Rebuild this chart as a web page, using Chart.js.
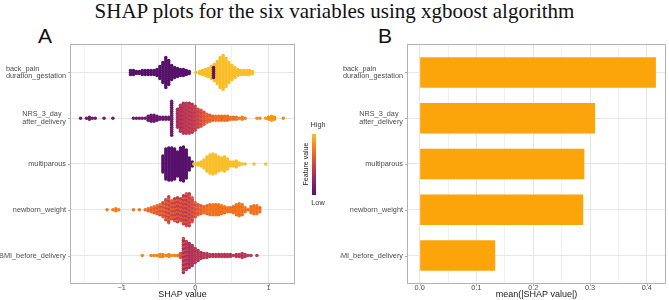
<!DOCTYPE html>
<html>
<head>
<meta charset="utf-8">
<script src="https://cdn.jsdelivr.net/npm/chart.js@4.4.1/dist/chart.umd.min.js"></script>
<style>
  html, body { margin: 0; padding: 0; background: #fff; }
  #wrap { position: relative; width: 669px; height: 300px; overflow: hidden; font-family: "Liberation Sans", Arial, sans-serif; }
  #title { position: absolute; left: 0; top: 1px; width: 669px; text-align: center; white-space: nowrap;
           font-family: "Liberation Serif", "Times New Roman", serif; font-size: 21px; line-height: 21px; color: #111; }
  .tag { position: absolute; top: 25px; font-size: 21px; line-height: 21px; color: #111; }
  canvas { position: absolute; top: 0; }
  #cA { left: 0; }
  #cB { left: 340px; }
  #colorbar { position: absolute; left: 312px; top: 134px; width: 4px; height: 61px; }
  .lg { position: absolute; font-size: 7.3px; line-height: 8px; color: #333; transform: translate(-50%, -50%); white-space: nowrap; }
  #lgTitle { position: absolute; left: 306px; top: 164px; font-size: 7px; line-height: 8px; color: #1a1a1a;
             white-space: nowrap; transform: translate(-50%, -50%) rotate(-90deg); }
</style>
</head>
<body>
<div id="wrap">
  <div id="title">SHAP plots for the six variables using xgboost algorithm</div>
  <div class="tag" style="left:38px">A</div>
  <div class="tag" style="left:378px">B</div>
  <canvas id="cA" width="340" height="300"></canvas>
  <canvas id="cB" width="329" height="300"></canvas>
  <div id="colorbar"></div>
  <div class="lg" style="left:318px; top:125px">High</div>
  <div class="lg" style="left:318px; top:203px">Low</div>
  <div id="lgTitle">Feature value</div>
</div>
<script>
// --- feature names (top to bottom) ---
const FEATURES = [
    ["back_pain", "duration_gestation"],
    ["NRS_3_day", "after_delivery"],
    ["multiparous"],
    ["newborn_weight"],
    ["BMI_before_delivery"]
];

// --- panel B: mean(|SHAP value|) ---
const MEAN_ABS = [0.416, 0.309, 0.290, 0.288, 0.133];

// --- tick labels ---
const A_TICKS = [-1, 0, 1];
const A_MINOR = [-1.5, -0.5, 0.5];
const B_TICKS = [0, 0.1, 0.2, 0.3, 0.4];
const B_MINOR = [0.05, 0.15, 0.25, 0.35];

// --- panel A: beeswarm, per row: SHAP value of each column, number of points stacked, feature value (0 low .. 1 high)
// back_pain / duration_gestation
const BACK_X = [-0.88,-0.84,-0.80,-0.76,-0.72,-0.68,-0.64,-0.60,-0.56,-0.52,-0.48,-0.44,-0.40,-0.36,-0.32,-0.28,-0.24,-0.20,-0.16,-0.12,-0.08,
    0.01,0.06,0.10,0.14,0.18,0.22,0.26,0.30,0.34,0.38,0.42,0.46,0.50,0.54,0.58,0.62,0.66,0.70,0.74,0.78,
    0.25];
const BACK_N = [3,3,2,2,3,3,3,3,3,4,7,11,16,13,8,6,5,4,4,3,2,
    1,2,3,4,5,7,9,12,16,18,15,11,8,6,4,3,3,3,3,2,
    6];
const BACK_F = [0,0,0,0,0,0,0,0,0,0,0,0,0,0,0,0,0,0,0,0,0,
    1,1,1,1,1,1,1,1,1,1,1,1,1,1,1,1,1,1,1,1,
    0.03];
const BACK_F2 = BACK_F;

// NRS_3_day / after_delivery
const NRS_X = [-1.56,-1.48,-1.44,-1.40,-1.36,-1.24,-1.12,-0.84,-0.80,-0.76,-0.72,-0.68,-0.64,-0.60,-0.56,-0.52,-0.48,-0.44,-0.40,-0.36,
    -0.32,-0.24,-0.20,-0.16,-0.12,-0.08,-0.04,0.00,0.04,0.08,0.12,0.16,0.20,0.24,0.28,0.32,0.36,0.40,0.44,0.48,0.52,0.56,
    0.60,0.64,0.68,0.84,0.88,0.96,1.00,1.04,1.08,1.20];
const NRS_N = [1,1,2,1,1,1,1,1,1,1,1,1,3,4,4,3,2,2,2,2,
    18,10,14,16,16,16,15,13,10,9,7,5,4,3,3,3,3,3,3,2,2,2,
    1,2,1,1,1,1,2,3,2,1];
const NRS_F = [0.12,0.12,0.12,0.12,0.12,0.12,0.12,0.12,0.12,0.12,0.12,0.10,0.08,0.08,0.08,0.08,0.10,0.10,0.10,0.10,
    0.08,0.30,0.33,0.36,0.38,0.38,0.40,0.42,0.46,0.50,0.56,0.62,0.70,0.70,0.72,0.72,0.70,0.74,0.72,0.75,0.72,0.75,
    0.76,0.78,0.76,0.85,0.82,0.88,0.85,0.88,0.85,0.80];
const NRS_F2 = [0.12,0.12,0.12,0.12,0.12,0.12,0.12,0.12,0.12,0.12,0.12,0.10,0.08,0.08,0.08,0.08,0.10,0.10,0.10,0.10,
    0.15,0.40,0.42,0.45,0.46,0.48,0.46,0.50,0.55,0.60,0.64,0.66,0.62,0.65,0.66,0.70,0.66,0.70,0.68,0.72,0.70,0.72,
    0.76,0.78,0.76,0.85,0.82,0.88,0.85,0.88,0.85,0.80];

// multiparous
const MULTI_X = [-0.44,-0.40,-0.36,-0.32,-0.28,-0.24,-0.20,-0.16,-0.12,-0.08,-0.04,
    -0.02,0.01,0.04,0.08,0.12,0.16,0.20,0.24,0.28,0.32,0.36,0.40,0.44,0.48,0.52,0.56,0.60,0.64,0.68,0.80,0.96];
const MULTI_N = [9,16,17,17,16,13,17,18,15,7,3,
    1,1,2,3,5,8,10,11,10,8,7,8,6,3,3,4,2,1,1,1,1];
const MULTI_F = [0,0,0,0,0,0,0,0,0,0,0,
    1,1,1,1,1,1,1,1,1,1,1,1,1,1,1,1,1,1,1,1,1];
const MULTI_F2 = MULTI_F;

// newborn_weight
const NB_X = [-1.20,-1.12,-1.08,-1.04,-0.84,-0.76,-0.68,-0.64,-0.60,-0.56,-0.52,-0.48,-0.44,-0.40,-0.36,-0.32,-0.28,-0.24,-0.20,-0.16,-0.12,-0.08,-0.04,
    0.00,0.04,0.08,0.12,0.16,0.20,0.24,0.28,0.32,0.36,0.40,0.44,0.48,0.52,0.56,0.60,0.64,0.68,0.72,0.76,0.80,0.84,0.88];
const NB_N = [1,1,2,1,1,1,1,2,3,4,5,6,8,11,14,10,12,13,12,15,17,17,13,
    8,6,5,4,5,6,6,6,6,5,4,3,3,4,6,7,6,3,1,4,5,5,3];
const NB_F = [0.76,0.76,0.76,0.76,0.74,0.74,0.72,0.72,0.70,0.70,0.70,0.68,0.68,0.66,0.64,0.64,0.64,0.62,0.62,0.60,0.60,0.60,0.62,
    0.64,0.68,0.70,0.72,0.74,0.75,0.75,0.75,0.75,0.75,0.75,0.75,0.75,0.75,0.75,0.75,0.75,0.75,0.75,0.75,0.75,0.75,0.75];
const NB_F2 = [0.76,0.76,0.76,0.76,0.74,0.74,0.66,0.66,0.62,0.62,0.58,0.55,0.52,0.48,0.45,0.48,0.45,0.42,0.45,0.42,0.40,0.42,0.46,
    0.52,0.58,0.62,0.66,0.68,0.70,0.70,0.70,0.70,0.70,0.70,0.70,0.70,0.70,0.70,0.70,0.70,0.70,0.70,0.70,0.70,0.70,0.70];

// BMI_before_delivery
const BMI_X = [-0.72,-0.60,-0.56,-0.52,-0.48,-0.44,-0.40,-0.36,-0.32,-0.28,-0.24,-0.20,-0.16,-0.12,-0.08,-0.04,
    0.00,0.04,0.08,0.12,0.16,0.20,0.24,0.28,0.32,0.36,0.40,0.44,0.48,0.52,0.56,0.60,0.64,0.68,0.72,0.76,0.84];
const BMI_N = [1,1,1,1,2,2,1,2,1,1,1,3,18,15,13,11,
    8,6,4,3,3,2,2,2,2,2,2,2,2,1,2,2,3,2,1,1,1];
const BMI_F = [0.80,0.78,0.80,0.78,0.80,0.78,0.80,0.78,0.80,0.78,0.75,0.60,0.30,0.33,0.33,0.36,
    0.38,0.40,0.40,0.42,0.42,0.42,0.42,0.42,0.42,0.42,0.42,0.42,0.42,0.42,0.42,0.42,0.42,0.42,0.42,0.42,0.42];
const BMI_F2 = [0.80,0.78,0.80,0.78,0.80,0.78,0.80,0.78,0.80,0.78,0.75,0.60,0.55,0.48,0.40,0.38,
    0.42,0.38,0.38,0.40,0.38,0.40,0.38,0.40,0.38,0.40,0.38,0.40,0.38,0.40,0.38,0.40,0.38,0.40,0.38,0.40,0.38];

const ROWS = [
    [BACK_X, BACK_N, BACK_F, BACK_F2],
    [NRS_X, NRS_N, NRS_F, NRS_F2],
    [MULTI_X, MULTI_N, MULTI_F, MULTI_F2],
    [NB_X, NB_N, NB_F, NB_F2],
    [BMI_X, BMI_N, BMI_F, BMI_F2]
];

// inferno palette, used from 0.25 to 0.85 like shapviz
const INFERNO = ['#000004','#160b39','#420a68','#6a176e','#932667','#bc3754','#dd513a','#f37819','#fca50a','#f6d746','#fcffa4'];
function hexRgb(h) { return [1, 3, 5].map(i => parseInt(h.substr(i, 2), 16)); }
function inferno(t) {
    const s = Math.max(0, Math.min(1, t)) * 10;
    const i = Math.min(9, Math.floor(s));
    const u = s - i;
    const a = hexRgb(INFERNO[i]), b = hexRgb(INFERNO[i + 1]);
    const c = a.map((v, k) => Math.round(v + (b[k] - v) * u));
    return `rgb(${c[0]},${c[1]},${c[2]})`;
}
function featColor(f) { return inferno(0.25 + 0.6 * f); }

const STACK_GAP = 0.0437; // vertical gap between stacked points, in row units

function swarmPoints(xs, ns, f1, f2, pos) {
    const pts = [], cols = [];
    xs.forEach((x, i) => {
        const n = ns[i];
        for (let k = 0; k < n; k++) {
            pts.push({ x: x, y: pos + (k - (n - 1) / 2) * STACK_GAP });
            cols.push(featColor((k + i) % 2 ? f2[i] : f1[i]));
        }
    });
    return { pts, cols };
}

Chart.defaults.font.family = '"Liberation Sans", Arial, sans-serif';
Chart.defaults.color = '#4d4d4d';

const isMajorA = v => A_TICKS.includes(v);
const isMajorB = v => B_TICKS.includes(v);

function makeDeco(isMajor) {
    return {
        id: 'panelDeco',
        afterDraw(chart) {
            const { ctx, chartArea: a } = chart;
            const xs = chart.scales.x, ys = chart.scales.y;
            ctx.save();
            ctx.strokeStyle = '#b3b3b3';
            ctx.lineWidth = 1;
            ctx.beginPath();
            ys.ticks.forEach(t => {
                const y = Math.round(ys.getPixelForValue(t.value)) + 0.5;
                ctx.moveTo(a.left - 3, y); ctx.lineTo(a.left, y);
            });
            xs.ticks.forEach(t => {
                if (!isMajor(t.value)) return;
                const x = Math.round(xs.getPixelForValue(t.value)) + 0.5;
                ctx.moveTo(x, a.bottom); ctx.lineTo(x, a.bottom + 3);
            });
            ctx.stroke();
            ctx.strokeRect(Math.round(a.left) - 0.5, Math.round(a.top) - 0.5, Math.round(a.width) + 1, Math.round(a.height) + 1);

            ctx.fillStyle = '#4d4d4d';
            ctx.font = '7.3px "Liberation Sans", Arial, sans-serif';
            ctx.textBaseline = 'middle';
            ctx.textAlign = 'left';
            FEATURES.forEach((lines, i) => {
                const y = ys.getPixelForValue(FEATURES.length - i);
                const w = Math.max(...lines.map(l => ctx.measureText(l).width));
                const x0 = a.left - 5 - w;
                lines.forEach((l, j) => ctx.fillText(l, x0, y + (j - (lines.length - 1) / 2) * 7.5));
            });
            ctx.restore();
        }
    };
}

const rowScale = {
    type: 'linear', min: 0.4, max: 5.6, offset: false,
    afterBuildTicks: s => { s.ticks = FEATURES.map((f, i) => ({ value: i + 1 })); },
    ticks: { display: false },
    grid: { color: '#e6e6e6', lineWidth: 1, drawTicks: false, offset: false },
    border: { display: false }
};

// --- panel A ---
const swarmSets = ROWS.map((r, i) => {
    const s = swarmPoints(r[0], r[1], r[2], r[3], FEATURES.length - i);
    return { data: s.pts, pointBackgroundColor: s.cols, pointRadius: 1.75, pointBorderWidth: 0, pointHoverRadius: 1.75 };
});

new Chart(document.getElementById('cA'), {
    type: 'scatter',
    data: { datasets: swarmSets },
    options: {
        responsive: false, animation: false, events: [],
        layout: { padding: { top: 45, right: 46, left: 0, bottom: 0 } },
        plugins: { legend: { display: false }, tooltip: { enabled: false } },
        scales: {
            x: {
                type: 'linear', min: -1.69, max: 1.345,
                afterBuildTicks: s => { s.ticks = [...A_MINOR, ...A_TICKS].sort((a, b) => a - b).map(v => ({ value: v })); },
                afterFit: s => { s.height = 17; },
                grid: {
                    color: c => c.tick.value === 0 ? '#a9a9a9' : (isMajorA(c.tick.value) ? '#e6e6e6' : '#f1f1f1'),
                    lineWidth: 1, drawTicks: false
                },
                border: { display: false },
                ticks: {
                    autoSkip: false, maxRotation: 0, padding: 1, color: '#4d4d4d', font: { size: 7.3 },
                    callback: v => isMajorA(v) ? (v < 0 ? '\u2212' + Math.abs(v) : String(v)) : ''
                },
                title: { display: true, text: 'SHAP value', color: '#1a1a1a', font: { size: 9 }, padding: 0 }
            },
            y: { ...rowScale, afterFit: s => { s.width = 71; } }
        }
    },
    plugins: [makeDeco(isMajorA)]
});

// --- panel B ---
new Chart(document.getElementById('cB'), {
    type: 'bar',
    data: {
        datasets: [{
            data: MEAN_ABS.map((v, i) => ({ x: v, y: FEATURES.length - i })),
            backgroundColor: '#fca50a', borderWidth: 0,
            barPercentage: 0.67, categoryPercentage: 1
        }]
    },
    options: {
        indexAxis: 'y',
        responsive: false, animation: false, events: [],
        layout: { padding: { top: 45, right: 4, left: 0, bottom: 0 } },
        plugins: { legend: { display: false }, tooltip: { enabled: false } },
        scales: {
            x: {
                type: 'linear', min: -0.0205, max: 0.432,
                afterBuildTicks: s => { s.ticks = [...B_TICKS, ...B_MINOR].sort((a, b) => a - b).map(v => ({ value: v })); },
                afterFit: s => { s.height = 17; },
                grid: { color: c => isMajorB(c.tick.value) ? '#e6e6e6' : '#f1f1f1', lineWidth: 1, drawTicks: false },
                border: { display: false },
                ticks: {
                    autoSkip: false, maxRotation: 0, padding: 1, color: '#4d4d4d', font: { size: 7.3 },
                    callback: v => isMajorB(v) ? v.toFixed(1) : ''
                },
                title: { display: true, text: 'mean(|SHAP value|)', color: '#1a1a1a', font: { size: 9 }, padding: 0 }
            },
            y: { ...rowScale, afterFit: s => { s.width = 68; } }
        }
    },
    plugins: [makeDeco(isMajorB)]
});

// colour bar of the legend
const stops = [0, 0.25, 0.5, 0.75, 1].map(f => `${featColor(f)} ${f * 100}%`).join(', ');
document.getElementById('colorbar').style.background = `linear-gradient(to top, ${stops})`;
</script>
</body>
</html>
